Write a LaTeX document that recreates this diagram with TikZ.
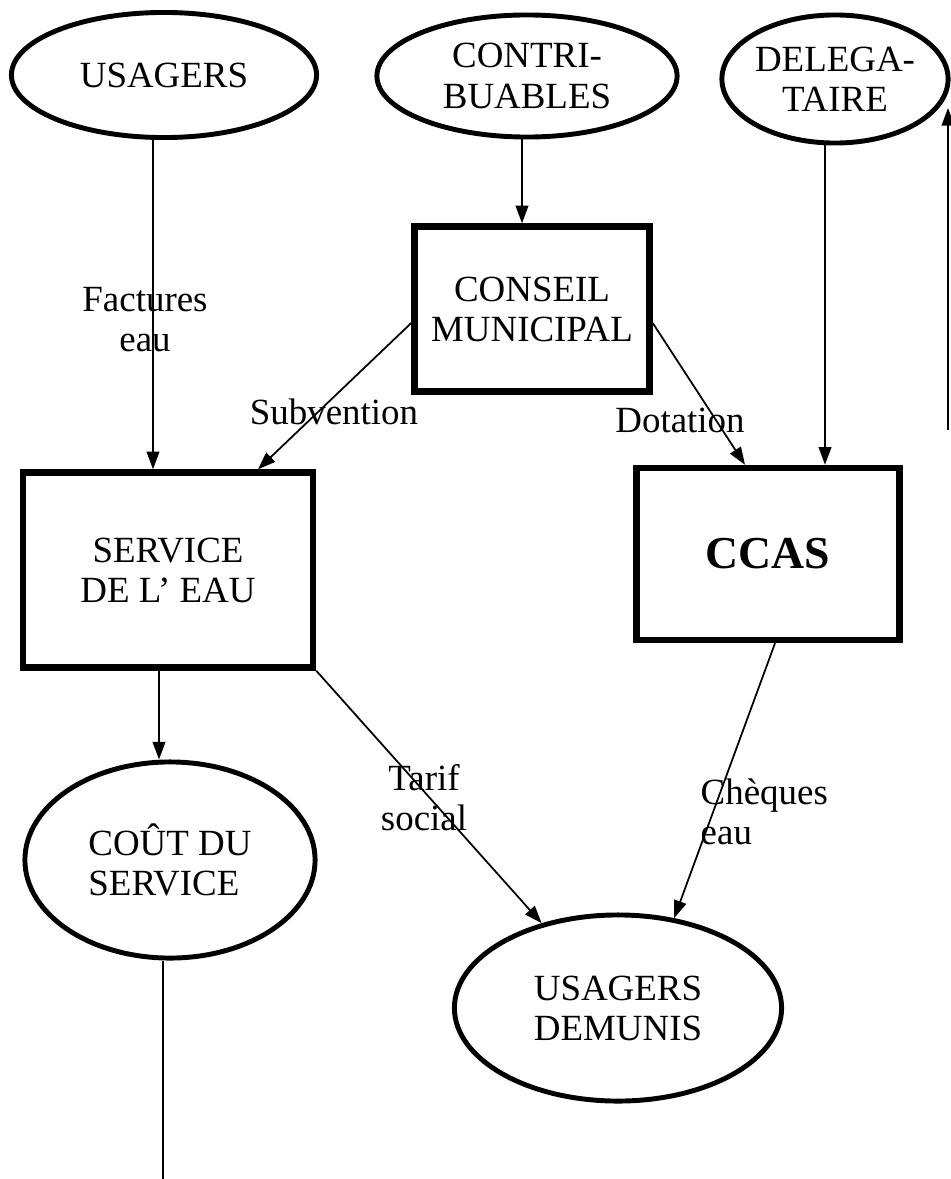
\documentclass[tikz,border=0pt]{standalone}
\usepackage{fontspec}
\setmainfont{Liberation Serif}
\usetikzlibrary{shapes.geometric,arrows.meta}

\begin{document}
\begin{tikzpicture}[x=0.01cm,y=-0.01cm,
  every node/.style={font=\fontsize{10.5}{11.4}\selectfont, align=center},
  oval/.style={ellipse, draw, line width=1.4pt, inner sep=0pt},
  box/.style={rectangle, draw, line width=1.8pt, inner sep=0pt},
  flow/.style={line width=0.5pt, -{Triangle[width=3.6pt,length=5pt]}},
  lbl/.style={inner sep=0pt}]
\useasboundingbox (0,0) rectangle (950,1179);

% Define the actors (ovals) and the bodies (boxes)
\node[oval, minimum width=3.05cm, minimum height=1.25cm] (usagers) at (164,75) {USAGERS};
\node[oval, minimum width=3.0cm, minimum height=1.22cm] (contrib) at (527,76) {CONTRI-\\BUABLES};
\node[oval, minimum width=2.26cm, minimum height=1.28cm] (delegataire) at (835,79) {DELEGA-\\TAIRE};

\node[box, minimum width=2.35cm, minimum height=1.65cm] (conseil) at (532,309) {CONSEIL\\MUNICIPAL};
\node[box, minimum width=2.90cm, minimum height=1.95cm] (service) at (168,570) {SERVICE\\DE L’ EAU};
\node[box, minimum width=2.63cm, minimum height=1.72cm,
      font=\fontsize{13}{15}\selectfont\bfseries] (ccas) at (768,554) {CCAS};

\node[oval, minimum width=2.90cm, minimum height=1.96cm, align=left] (cout) at (170,860) {COÛT DU\\SERVICE};
\node[oval, minimum width=3.27cm, minimum height=1.86cm] (demunis) at (618,1008) {USAGERS\\DEMUNIS};

% Define the flow labels
\node[lbl] (factures) at (145,320) {Factures\\eau};
\node[lbl] (subvention) at (334,412) {Subvention};
\node[lbl] (dotation) at (680,420) {Dotation};
\node[lbl] (tarif) at (424,798) {Tarif\\social};
\node[lbl, anchor=west, align=left] (cheques) at (700,812) {Chèques\\eau};

% Define the free ends
\coordinate (bas) at (163,1179);
\coordinate (bordbas) at (948,430);
\coordinate (bordhaut) at (948,108);

% Draw vertical flows
\draw[flow] (usagers.south -| 153,0) -- (service.north -| 153,0);
\draw[flow] (contrib.south -| 522,0) -- (conseil.north -| 522,0);
\draw[flow] (delegataire.south -| 825,0) -- (ccas.north -| 825,0);
\draw[flow] (service.south -| 159,0) -- (cout.north -| 159,0);
\draw[line width=0.5pt] (cout.south -| 163,0) -- (bas);
\draw[flow] (bordbas) -- (bordhaut);

% Draw diagonal flows
\draw[flow] (conseil.west |- 0,323) -- (service.north -| 258,0);
\draw[flow] (conseil.east |- 0,323) -- (ccas.north -| 745,0);
\draw[flow] (service.south east) -- (demunis.132);
\draw[flow] (ccas.south -| 775,0) -- (demunis.58);
\end{tikzpicture}
\end{document}
